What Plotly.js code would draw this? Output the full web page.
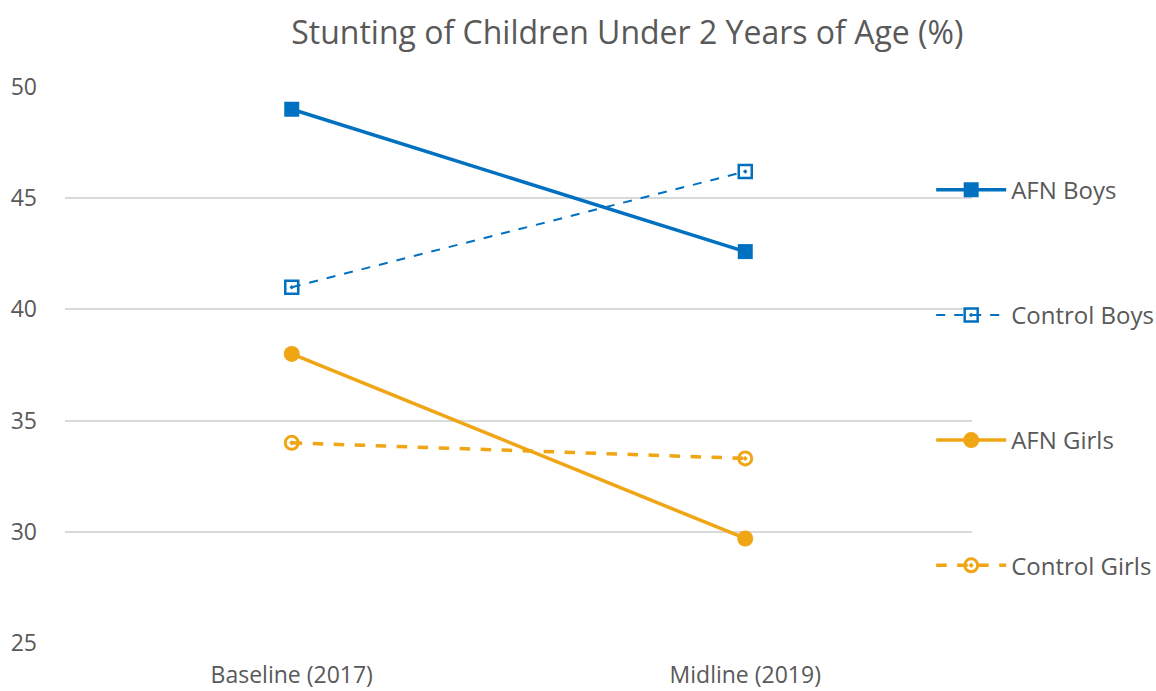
<!DOCTYPE html>
<html><head><meta charset="utf-8">
<script src="https://cdn.plot.ly/plotly-3.0.1.min.js"></script>
<style>body{margin:0;background:#fff}#chart{width:1156px;height:691px}</style>
</head><body><div id="chart"></div>
<script>
const categories = ["Baseline (2017)", "Midline (2019)"];
const afnBoys = [49.0, 42.6];
const controlBoys = [41.0, 46.2];
const afnGirls = [38.0, 29.7];
const controlGirls = [34.0, 33.3];
const yTicks = [25, 30, 35, 40, 45, 50];

const blue = "#0070C0", orange = "#F0A515";
const traces = [
  {name:"AFN Boys", x:categories, y:afnBoys, mode:"lines+markers", legendgroup:"a",
   line:{color:blue,width:3.5}, marker:{symbol:"square",size:15,color:blue}},
  {name:"Control Boys", x:categories, y:controlBoys, mode:"lines+markers", legendgroup:"b",
   line:{color:blue,width:2,dash:"dash"}, marker:{symbol:"square-open-dot",size:13,color:blue,line:{width:2.5,color:blue}}},
  {name:"AFN Girls", x:categories, y:afnGirls, mode:"lines+markers", legendgroup:"c",
   line:{color:orange,width:3.5}, marker:{symbol:"circle",size:16,color:orange}},
  {name:"Control Girls", x:categories, y:controlGirls, mode:"lines+markers", legendgroup:"d",
   line:{color:orange,width:3.5,dash:"dash"}, marker:{symbol:"circle-open-dot",size:13,color:orange,line:{width:3,color:orange}}}
];
const layout = {
  width:1156, height:691,
  margin:{l:65, r:184, t:87, b:48, autoexpand:false},
  paper_bgcolor:"#fff", plot_bgcolor:"#fff",
  font:{family:"Open Sans, sans-serif", color:"#595959", size:23},
  title:{text:"Stunting of Children Under 2 Years of Age (%)", font:{size:32,color:"#595959"},
         x:0.62, xref:"paper", xanchor:"center", y:0.952, yanchor:"middle"},
  xaxis:{type:"category", range:[-0.5,1.5], showgrid:false, zeroline:false, showline:false,
         tickfont:{size:23,color:"#595959"}, ticklabelstandoff:16},
  yaxis:{range:[25,50], tickvals:yTicks, showgrid:true, gridcolor:"#D9D9D9", gridwidth:1.5,
         zeroline:false, showline:false, tickfont:{size:23,color:"#595959"}, ticklabelstandoff:27},
  showlegend:true,
  legend:{x:0.955, xanchor:"left", y:0.855, yanchor:"top", tracegroupgap:91,
          itemwidth:70, font:{size:24,color:"#595959"}, bgcolor:"rgba(0,0,0,0)"}
};
Plotly.newPlot("chart", traces, layout, {displayModeBar:false});
</script></body></html>
